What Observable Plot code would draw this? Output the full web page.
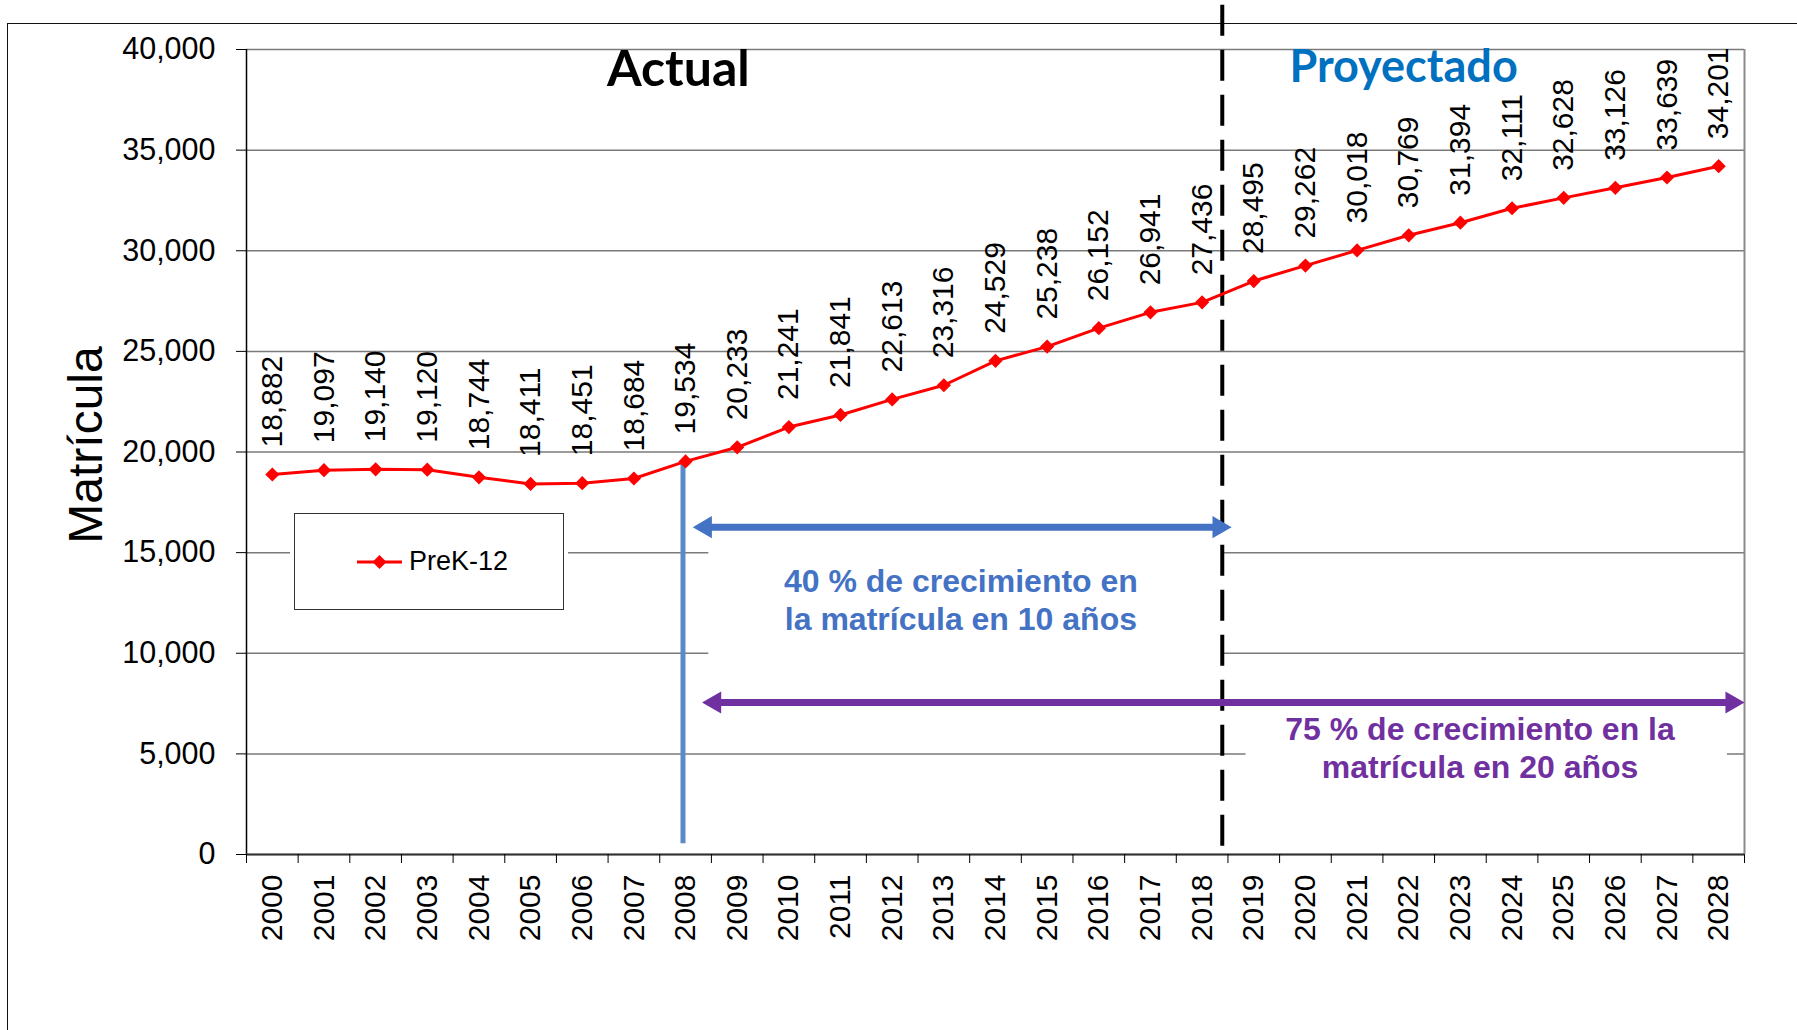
<!DOCTYPE html>
<html><head><meta charset="utf-8">
<script src="https://cdn.jsdelivr.net/npm/d3@7"></script>
<script src="https://cdn.jsdelivr.net/npm/@observablehq/plot@0.6"></script>
<style>
html,body{margin:0;padding:0;background:#fff;overflow:hidden}
#wrap{position:relative;width:1797px;height:1030px;overflow:hidden;background:#fff}
#border{position:absolute;left:7px;top:23px;width:1900px;height:1100px;border-top:1.5px solid #111;border-left:1.5px solid #111}
#chart{position:absolute;left:0;top:0}
#legend{position:absolute;left:294px;top:513px;width:268px;height:95px;border:1.5px solid #333;background:#fff;box-shadow:0 0 0 4px #fff;font-family:"Liberation Sans",Arial,sans-serif;font-size:27px;display:flex;align-items:center;box-sizing:content-box}
#legend svg{margin-left:62px;margin-right:7px}
</style></head>
<body><div id="wrap"><div id="border"></div><div id="chart"></div>
<div id="legend"><svg width="45" height="20" viewBox="0 0 45 20"><line x1="0" y1="10" x2="45" y2="10" stroke="#FF0000" stroke-width="3"/><path d="M22.5,3 L29.5,10 L22.5,17 L15.5,10 Z" fill="#FF0000"/></svg><span id="legendLabel"></span></div>
</div>
<script>
// ---- data ----
const years = [2000,2001,2002,2003,2004,2005,2006,2007,2008,2009,2010,2011,2012,2013,2014,2015,2016,2017,2018,2019,2020,2021,2022,2023,2024,2025,2026,2027,2028];
const enrollment = [18882,19097,19140,19120,18744,18411,18451,18684,19534,20233,21241,21841,22613,23316,24529,25238,26152,26941,27436,28495,29262,30018,30769,31394,32111,32628,33126,33639,34201];
const seriesName = "PreK-12";
const yTicks = [0,5000,10000,15000,20000,25000,30000,35000,40000];
const yLabel = "Matrícula";
const actualLabel = "Actual";
const projectedLabel = "Proyectado";
const note10 = "40 % de crecimiento en\nla matrícula en 10 años";
const note20 = "75 % de crecimiento en la\nmatrícula en 20 años";

// ---- annotation placement (in data units) ----
const divider = {x: 2018.39, top: 42200, bottom: 184};
const startLine = {x: 2007.95, top: 19534, bottom: 530};
const arrow10 = {x1: 2008.14, x2: 2018.57, y: 16267};
const arrow20 = {x1: 2008.32, x2: 2028.5, y: 7550};
const box10 = {x1: 2008.45, x2: 2018.4, y1: 9400, y2: 15600};
const box20 = {x1: 2018.85, x2: 2028.17, y1: 2700, y2: 7100};
const actualPos = {x: 2007.86, y: 39950};
const projectedPos = {x: 2021.9, y: 39950};
const note10Pos = {x: 2013.33, y: 12710};
const note20Pos = {x: 2023.38, y: 5330};

const data = years.map((y, i) => ({year: y, value: enrollment[i]}));
const edges = years.map(y => y - 0.5).concat([years[years.length - 1] + 0.5]);
const fmt = d3.format(",");
const font = '"Liberation Sans", Arial, sans-serif';
const calib = 'Lato, "Open Sans", sans-serif';

document.getElementById("legendLabel").textContent = seriesName;

const chart = Plot.plot({
  width: 1797, height: 1030,
  marginLeft: 246, marginRight: 53, marginTop: 49, marginBottom: 176,
  x: {domain: [edges[0], edges[edges.length - 1]]},
  y: {domain: [0, 40000]},
  style: {fontFamily: font, fontSize: "30px", color: "#000", background: "transparent", overflow: "visible"},
  marks: [
    Plot.gridY(yTicks, {stroke: "#7a7a7a", strokeOpacity: 1, strokeWidth: 1.5}),
    Plot.ruleX([edges[edges.length - 1]], {stroke: "#8a8a8a", strokeWidth: 2}),
    Plot.rect([box10, box20], {x1: "x1", x2: "x2", y1: "y1", y2: "y2", fill: "#fff"}),
    Plot.ruleX([edges[0]], {stroke: "#000", strokeWidth: 1.5}),
    Plot.ruleY([0], {stroke: "#333", strokeWidth: 2}),
    Plot.axisY({ticks: yTicks, tickFormat: fmt, tickSize: 10, tickPadding: 21, fontSize: 30.5, label: null, stroke: "#000"}),
    Plot.axisX({ticks: edges, tickFormat: () => "", tickSize: 9, label: null, stroke: "#000"}),
    Plot.axisX({ticks: years, tickFormat: d3.format("d"), tickSize: 0, tickPadding: 20, tickRotate: -90, fontSize: 30, label: null}),
    Plot.text([yLabel], {frameAnchor: "left", textAnchor: "middle", rotate: -90, dx: -160, dy: -7, fontSize: 48, fill: "#000"}),
    // 2008 marker line
    Plot.ruleX([startLine], {x: "x", y1: "top", y2: "bottom", stroke: "#5B8AC6", strokeWidth: 5}),
    // actual/projected divider
    Plot.ruleX([divider], {x: "x", y1: "top", y2: "bottom", stroke: "#000", strokeWidth: 4, strokeDasharray: "31,14"}),
    // double arrows
    Plot.ruleY([arrow10], {x1: "x1", x2: "x2", y: "y", stroke: "#4472C4", strokeWidth: 7, insetLeft: 14, insetRight: 14}),
    Plot.dot([arrow10], {x: "x1", y: "y", symbol: "triangle", r: 8.2, rotate: -90, dx: 12.7, fill: "#4472C4"}),
    Plot.dot([arrow10], {x: "x2", y: "y", symbol: "triangle", r: 8.2, rotate: 90, dx: -12.7, fill: "#4472C4"}),
    Plot.ruleY([arrow20], {x1: "x1", x2: "x2", y: "y", stroke: "#7030A0", strokeWidth: 7, insetLeft: 14, insetRight: 14}),
    Plot.dot([arrow20], {x: "x1", y: "y", symbol: "triangle", r: 8.2, rotate: -90, dx: 12.7, fill: "#7030A0"}),
    Plot.dot([arrow20], {x: "x2", y: "y", symbol: "triangle", r: 8.2, rotate: 90, dx: -12.7, fill: "#7030A0"}),
    // notes
    Plot.text([note10Pos], {x: "x", y: "y", text: () => note10, fontSize: 32, fontWeight: "bold", fill: "#4472C4", lineHeight: 1.19}),
    Plot.text([note20Pos], {x: "x", y: "y", text: () => note20, fontSize: 32, fontWeight: "bold", fill: "#7030A0", lineHeight: 1.19}),
    Plot.text([actualPos], {x: "x", y: "y", text: () => actualLabel, fontFamily: calib, fontSize: 50, fontWeight: "bold", fill: "#000", lineAnchor: "top"}),
    Plot.text([projectedPos], {x: "x", y: "y", text: () => projectedLabel, fontFamily: calib, fontSize: 45, fontWeight: "bold", fill: "#0070C0", lineAnchor: "top"}),
    // series
    Plot.line(data, {x: "year", y: "value", stroke: "#FF0000", strokeWidth: 3}),
    Plot.dot(data, {x: "year", y: "value", symbol: "diamond2", r: 6.4, fill: "#FF0000", stroke: "none"}),
    Plot.text(data, {x: "year", y: "value", text: d => fmt(d.value), rotate: -90, textAnchor: "start", dy: -27, fontSize: 30, fill: "#000"})
  ]
});
document.getElementById("chart").appendChild(chart);
</script>
</body></html>
